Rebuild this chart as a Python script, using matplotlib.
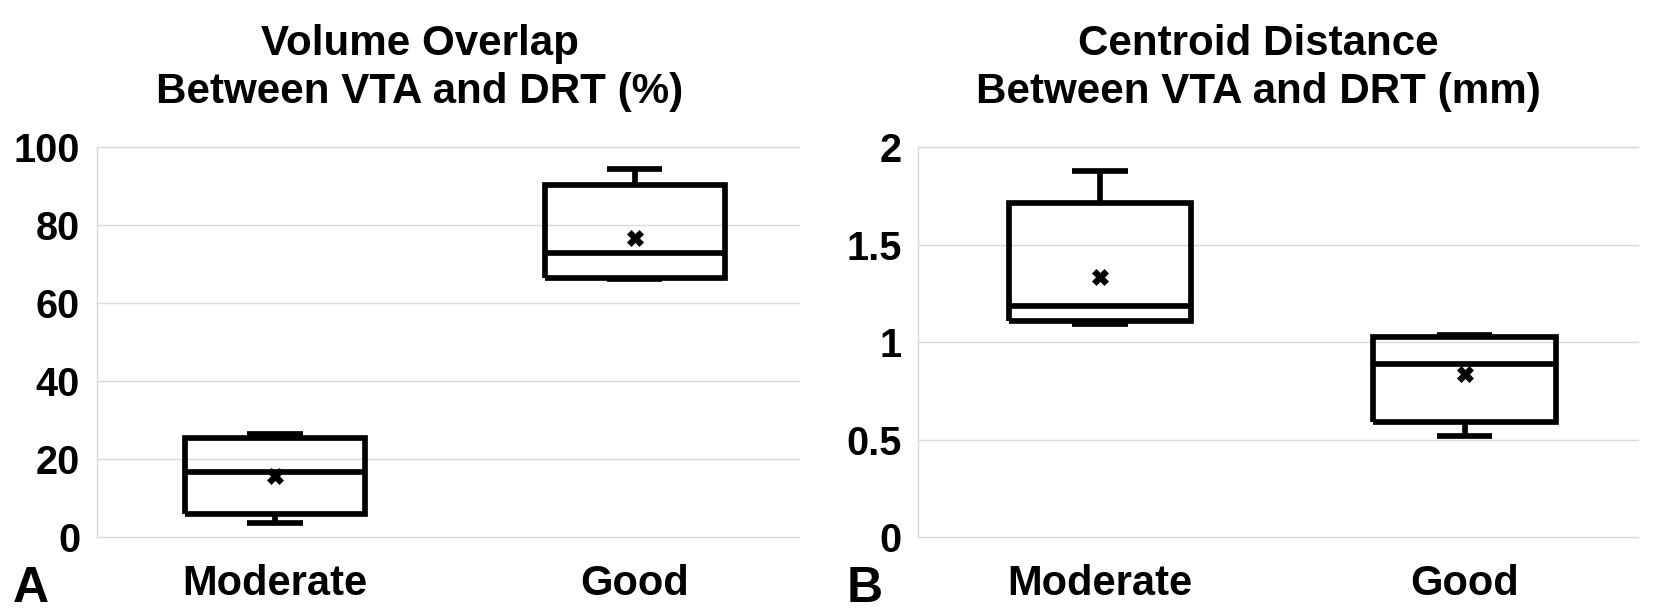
import matplotlib
matplotlib.use('Agg')
import matplotlib.pyplot as plt

plt.rcParams['font.family'] = ['Liberation Sans', 'DejaVu Sans']
plt.rcParams['font.weight'] = 'bold'

# ---------------------------------------------------------------------------
# data (box summary per group)
# ---------------------------------------------------------------------------
groups = ['Moderate', 'Good']

# Volume overlap (%)
vol_whislo = [3.7, 66.3]
vol_q1     = [6.05, 66.5]
vol_med    = [16.7, 72.85]
vol_q3     = [25.4, 90.46]
vol_whishi = [26.6, 94.56]
vol_mean   = [15.8, 76.7]
vol_ticks  = [0, 20, 40, 60, 80, 100]

# Centroid distance (mm)
dist_whislo = [1.093, 0.518]
dist_q1     = [1.108, 0.592]
dist_med    = [1.185, 0.891]
dist_q3     = [1.715, 1.025]
dist_whishi = [1.881, 1.040]
dist_mean   = [1.335, 0.836]
dist_ticks  = [0, 0.5, 1, 1.5, 2]
dist_ticklabels = ['0', '0.5', '1', '1.5', '2']

LW = 4.1
GRID = '#d9d9d9'


def make_stats(lo, q1, med, q3, hi, mean):
    return [dict(whislo=lo[i], q1=q1[i], med=med[i], q3=q3[i], whishi=hi[i],
                 mean=mean[i], fliers=[], label=groups[i]) for i in range(len(groups))]


def draw_panel(ax, stats, xlim, ticks, ticklabels=None):
    line = dict(color='k', lw=LW, solid_capstyle='butt', solid_joinstyle='miter')
    ax.bxp(stats, positions=[0, 1], widths=0.5, capwidths=0.153,
           showmeans=True, showfliers=False,
           boxprops=line, medianprops=line, whiskerprops=line, capprops=line,
           meanprops=dict(marker='X', markersize=11, markerfacecolor='k',
                          markeredgecolor='k', markeredgewidth=0.5))
    ax.set_xlim(*xlim)
    ax.set_ylim(ticks[0], ticks[-1])
    ax.set_yticks(ticks)
    if ticklabels is not None:
        ax.set_yticklabels(ticklabels)
    ax.set_xticks([0, 1])
    ax.set_xticklabels(groups)
    ax.grid(axis='y', color=GRID, lw=1.0)
    for gl in ax.get_ygridlines():
        gl.set_clip_on(False)
    ax.set_axisbelow(True)
    for s in ['top', 'right', 'bottom']:
        ax.spines[s].set_visible(False)
    ax.spines['left'].set_color(GRID)
    ax.spines['left'].set_linewidth(1.0)
    ax.tick_params(axis='y', length=0, pad=12, labelsize=28.5)
    ax.tick_params(axis='x', length=0, pad=19, labelsize=30)
    for lab in ax.get_xticklabels() + ax.get_yticklabels():
        lab.set_fontweight('bold')


fig = plt.figure(figsize=(16.6, 6.14), dpi=100)
axA = fig.add_axes([0.05825, 0.1249, 0.4231, 0.6352])
axB = fig.add_axes([0.5532, 0.1249, 0.4336, 0.6352])

draw_panel(axA, make_stats(vol_whislo, vol_q1, vol_med, vol_q3, vol_whishi, vol_mean),
           (-0.4956, 1.4564), vol_ticks)
draw_panel(axB, make_stats(dist_whislo, dist_q1, dist_med, dist_q3, dist_whishi, dist_mean),
           (-0.4985, 1.476), dist_ticks, dist_ticklabels)

# titles
fig.text(0.2530, 0.9110, 'Volume Overlap', ha='center', va='baseline', fontsize=30.3, fontweight='bold')
fig.text(0.2530, 0.8322, 'Between VTA and DRT (%)', ha='center', va='baseline', fontsize=30.3, fontweight='bold')
fig.text(0.7578, 0.9110, 'Centroid Distance', ha='center', va='baseline', fontsize=30.3, fontweight='bold')
fig.text(0.7578, 0.8322, 'Between VTA and DRT (mm)', ha='center', va='baseline', fontsize=30.3, fontweight='bold')

# panel letters
fig.text(0.0078, 0.0195, 'A', ha='left', va='baseline', fontsize=36, fontweight='bold')
fig.text(0.5100, 0.0200, 'B', ha='left', va='baseline', fontsize=36, fontweight='bold')

fig.savefig('out.png', dpi=100)
